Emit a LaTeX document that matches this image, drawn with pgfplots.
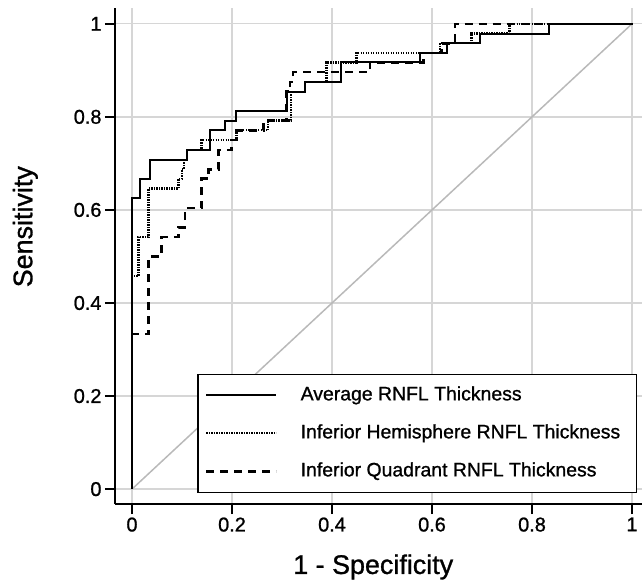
\documentclass[border=0pt]{standalone}
\usepackage{fontspec}
\setmainfont{Liberation Sans}[FakeBold=1.0]
\usepackage{pgfplots}
\pgfplotsset{compat=1.18}
\definecolor{gridc}{RGB}{214,214,214}
\definecolor{diagc}{RGB}{185,185,185}
\begin{document}
\begin{tikzpicture}[x=1bp,y=1bp]
\path[use as bounding box] (-115,-79) rectangle (528,504);
\begin{axis}[
  at={(0,0)}, anchor=south west,
  scale only axis, width=527bp, height=496bp,
  xmin=-0.034, xmax=1.02, ymin=-0.032, ymax=1.034,
  axis x line*=bottom, axis y line*=left,
  axis line style={line width=1.5bp, black},
  xtick={0,0.2,0.4,0.6,0.8,1}, ytick={0,0.2,0.4,0.6,0.8,1},
  xticklabels={0,0.2,0.4,0.6,0.8,1}, yticklabels={0,0.2,0.4,0.6,0.8,1},
  tick align=outside, major tick length=10bp,
  tick style={line width=1.5bp, black},
  grid=major, grid style={gridc, line width=1.3bp},
  ticklabel style={font=\fontsize{20}{23}\selectfont},
  xlabel={1 - Specificity}, ylabel={Sensitivity},
  label style={font=\fontsize{27}{31}\selectfont},
  xlabel style={at={(axis description cs:0.49,-0.141)}, anchor=base},
  ylabel style={at={(axis description cs:-0.157,0.559)}, anchor=base},
  legend style={at={(axis cs:1.01,-0.0086)}, anchor=south east, draw=black,
    line width=1.5bp, fill=white, font=\fontsize{19.5}{22}\selectfont,
    inner xsep=7bp, inner ysep=12bp, row sep=20bp, column sep=23bp,
    nodes={inner sep=0pt, text height=14bp, text depth=4bp}},
  legend cell align=left,
  legend image code/.code={\draw[#1] (0bp,0bp) -- (70bp,0bp);},
]
\addplot[diagc, line width=1.5bp, forget plot] coordinates {(0,0) (1,1)};
\addplot[black, line width=2bp, const plot] coordinates {
(0,0) (0,0.625) (0.016,0.667) (0.036,0.708) (0.109,0.729) (0.155,0.771)
(0.186,0.792) (0.208,0.8125) (0.309,0.854) (0.346,0.875) (0.417,0.917)
(0.576,0.9375) (0.629,0.958) (0.696,0.979) (0.833,1) (1,1)};
\addlegendentry{Average RNFL Thickness}
\addplot[black, line width=2.2bp, dash pattern=on 1.2bp off 1.3bp, const plot] coordinates {
(0,0) (0,0.458) (0.013,0.542) (0.033,0.646) (0.093,0.667) (0.1,0.6875)
(0.104,0.708) (0.11,0.729) (0.139,0.75) (0.209,0.771) (0.272,0.792)
(0.318,0.854) (0.346,0.875) (0.389,0.917) (0.449,0.9375) (0.616,0.958)
(0.679,0.979) (0.755,1) (1,1)};
\addlegendentry{Inferior Hemisphere RNFL Thickness\hspace*{9bp}\mbox{}}
\addplot[black, line width=2.6bp, dash pattern=on 8bp off 6bp, const plot] coordinates {
(0,0) (0,0.333) (0.033,0.5) (0.059,0.542) (0.093,0.5625) (0.106,0.604)
(0.139,0.667) (0.153,0.6875) (0.173,0.729) (0.199,0.75) (0.209,0.771)
(0.263,0.792) (0.309,0.854) (0.316,0.875) (0.322,0.896) (0.476,0.917)
(0.583,0.9375) (0.619,0.958) (0.646,1) (1,1)};
\addlegendentry{Inferior Quadrant RNFL Thickness}
\end{axis}
\end{tikzpicture}
\end{document}
